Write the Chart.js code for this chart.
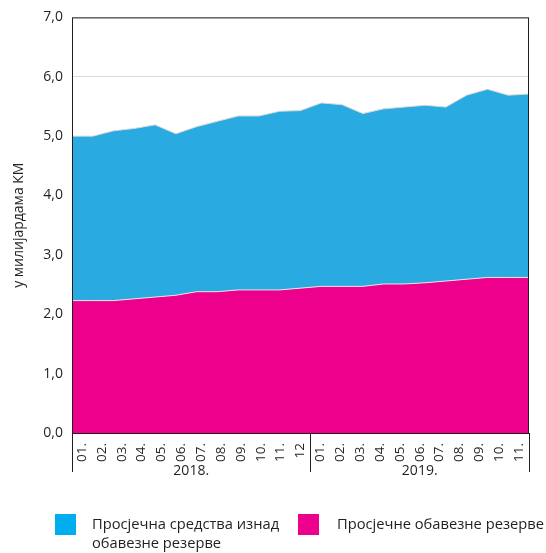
<!DOCTYPE html>
<html>
<head>
<meta charset="utf-8">
<script src="https://cdn.jsdelivr.net/npm/chart.js@4/dist/chart.umd.min.js"></script>
<style>
  html, body { margin: 0; padding: 0; background: #fff; }
  #wrap { position: relative; width: 546px; height: 553px; }
  #chart { position: absolute; left: 0; top: 0; }
  .leg { position: absolute; font: 14.7px "Open Sans", sans-serif; color: #231f20; line-height: 19px; }
  .sw { position: absolute; width: 21px; height: 21px; }
</style>
</head>
<body>
<div id="wrap">
  <canvas id="chart" width="546" height="553"></canvas>
  <div class="sw" style="left:55px;top:514px;background:#00aeef"></div>
  <div class="leg" style="left:92px;top:514px">Просјечна средства изнад<br>обавезне резерве</div>
  <div class="sw" style="left:298px;top:514px;background:#ec008c"></div>
  <div class="leg" style="left:337px;top:514px">Просјечне обавезне резерве</div>
</div>
<script>
const months = ['01.', '02.', '03.', '04.', '05.', '06.', '07.', '08.', '09.', '10.', '11.', '12',
                '01.', '02.', '03.', '04.', '05.', '06.', '07.', '08.', '09.', '10.', '11.'];
const years = ['2018.', '2019.'];
const yearSpans = [12, 11];

// у милијардама КМ
const reserves = [2.23, 2.23, 2.23, 2.26, 2.29, 2.32, 2.38, 2.38, 2.41, 2.41, 2.41, 2.44,
                  2.47, 2.47, 2.47, 2.51, 2.51, 2.53, 2.56, 2.59, 2.62, 2.62, 2.62];
const excess = [2.77, 2.77, 2.86, 2.87, 2.90, 2.72, 2.78, 2.87, 2.93, 2.93, 3.01, 2.99,
                3.09, 3.06, 2.91, 2.95, 2.98, 2.99, 2.93, 3.10, 3.17, 3.07, 3.09];

const yTicks = [0, 1, 2, 3, 4, 5, 6, 7];

const FONT = '"Open Sans", sans-serif';

// okvir, linije ispod ose i godine
const framePlugin = {
  id: 'frame',
  afterDraw(chart) {
    const { ctx, chartArea: a } = chart;
    ctx.save();
    ctx.strokeStyle = '#231f20';
    ctx.lineWidth = 1;
    ctx.strokeRect(a.left + 0.5, a.top + 0.5, a.right - a.left - 1, a.bottom - a.top);
    const w = (a.right - a.left) / months.length;
    let start = 0;
    const bounds = [0];
    yearSpans.forEach(n => { start += n; bounds.push(start); });
    ctx.beginPath();
    bounds.forEach(b => {
      const x = Math.round(a.left + b * w) + 0.5;
      ctx.moveTo(x, a.bottom);
      ctx.lineTo(x, a.bottom + 39);
    });
    ctx.stroke();
    ctx.fillStyle = '#231f20';
    ctx.font = '14px ' + FONT;
    ctx.textAlign = 'center';
    ctx.textBaseline = 'middle';
    years.forEach((y, i) => {
      const x = a.left + (bounds[i] + bounds[i + 1]) / 2 * w;
      ctx.fillText(y, x, a.bottom + 38);
    });
    ctx.restore();
  }
};

new Chart(document.getElementById('chart'), {
  type: 'line',
  data: {
    labels: months,
    datasets: [
      {
        label: 'Просјечне обавезне резерве',
        data: reserves.map((v, i) => ({ x: i, y: v })),
        backgroundColor: '#ec008c',
        borderColor: '#e6e6e6',
        borderWidth: 1,
        fill: 'origin',
        pointRadius: 0,
        xAxisID: 'x'
      },
      {
        label: 'Просјечна средства изнад обавезне резерве',
        data: excess.map((v, i) => ({ x: i, y: v })),
        backgroundColor: '#29abe2',
        borderColor: '#d9d9d9',
        borderWidth: 1,
        fill: '-1',
        pointRadius: 0,
        xAxisID: 'x'
      }
    ]
  },
  options: {
    responsive: false,
    animation: false,
    layout: { padding: { top: 16, right: 17, left: 0, bottom: 0 } },
    plugins: { legend: { display: false }, tooltip: { enabled: false } },
    scales: {
      x: {
        type: 'linear', min: 0, max: months.length - 1, display: false
      },
      xc: {
        type: 'category',
        position: 'bottom',
        offset: true,
        grid: { display: false },
        border: { display: false },
        ticks: {
          minRotation: 90, maxRotation: 90, autoSkip: false, padding: 2,
          color: '#231f20', font: { size: 13.5, family: FONT }
        },
        afterFit: s => { s.height = 120; }
      },
      y: {
        stacked: true,
        min: 0, max: 7,
        afterBuildTicks: s => { s.ticks = yTicks.map(v => ({ value: v })); },
        grid: { color: '#d9d9d9', drawTicks: false },
        border: { display: false },
        ticks: {
          padding: 9, color: '#231f20', font: { size: 14, family: FONT },
          callback: v => v.toFixed(1).replace('.', ',')
        },
        title: {
          display: true, text: 'у милијардама КМ', color: '#231f20',
          font: { size: 14, family: FONT }, padding: { top: 11, bottom: 0 }
        },
        afterFit: s => { s.width = 72; }
      }
    }
  },
  plugins: [framePlugin]
});
</script>
</body>
</html>
